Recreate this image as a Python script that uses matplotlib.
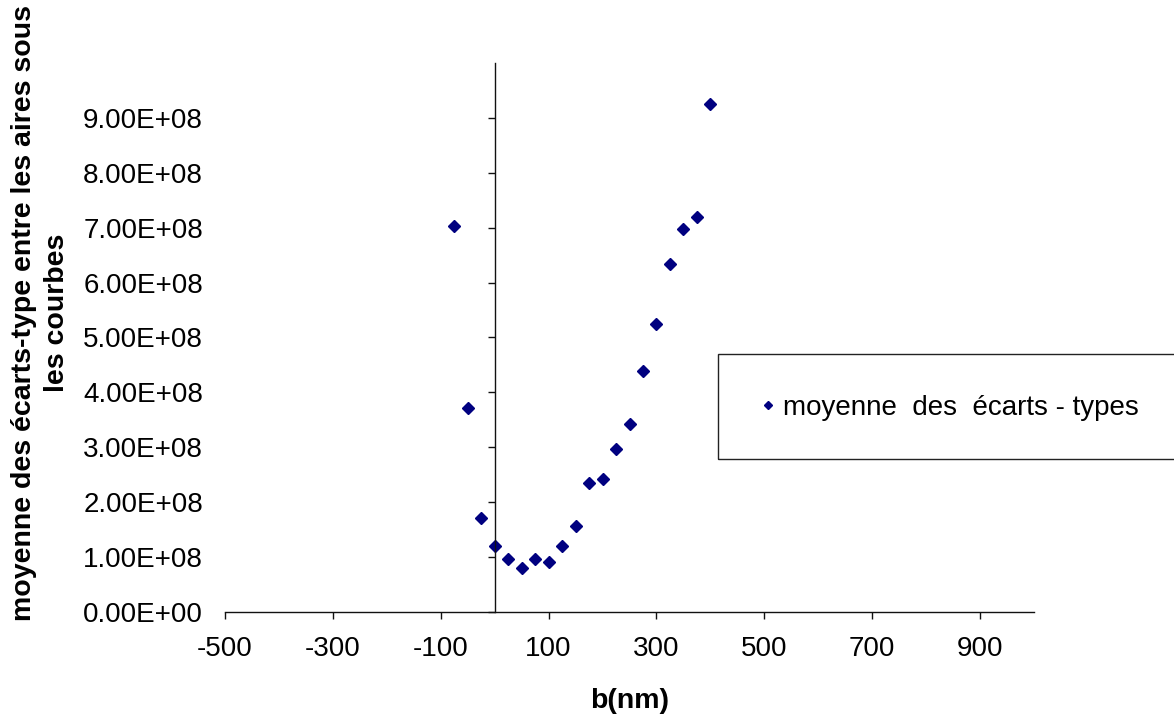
import matplotlib.pyplot as plt
from matplotlib.patches import Rectangle
from matplotlib.ticker import FuncFormatter

plt.rcParams['font.family'] = ['Liberation Sans', 'DejaVu Sans']
plt.rcParams['axes.unicode_minus'] = False

b_nm = [-75, -50, -25, 0, 25, 50, 75, 100, 125, 150, 175, 200,
        225, 250, 275, 300, 325, 350, 375, 400]
ecart = [7.04e8, 3.71e8, 1.72e8, 1.20e8, 0.96e8, 0.80e8, 0.97e8, 0.91e8,
         1.21e8, 1.57e8, 2.35e8, 2.42e8, 2.96e8, 3.43e8, 4.39e8, 5.24e8,
         6.33e8, 6.98e8, 7.20e8, 9.26e8]
x_ticks = [-500, -300, -100, 100, 300, 500, 700, 900]
y_ticks = [0, 1e8, 2e8, 3e8, 4e8, 5e8, 6e8, 7e8, 8e8, 9e8]

W, H = 1174, 718
fig = plt.figure(figsize=(W / 100, H / 100), dpi=100)
ax = fig.add_axes([225 / W, 1 - 612 / H, 809 / W, 549 / H])

ax.plot(b_nm, ecart, 'D', color='#000080', markersize=6, linestyle='none',
        label='moyenne  des  écarts - types')

ax.set_xlim(-500, 1000)
ax.set_ylim(0, 1e9)
ax.set_xticks(x_ticks)
ax.set_yticks(y_ticks)
ax.yaxis.set_major_formatter(FuncFormatter(lambda v, p: '%.2E' % v))

for s in ['top', 'right']:
    ax.spines[s].set_visible(False)
ax.spines['left'].set_position(('data', 0))
for s in ['left', 'bottom']:
    ax.spines[s].set_linewidth(1.0)
    ax.spines[s].set_color('#111111')

# y labels stay at the left edge, ticks on the x=0 axis
x0_px = ax.transData.transform((0, 0))[0] - ax.transAxes.transform((0, 0))[0]
ypad = (x0_px + 22) * 72 / 100 - 5
ax.tick_params(axis='y', direction='out', length=5, width=1, color='#111111',
               labelsize=20, pad=ypad)
ax.tick_params(axis='x', direction='out', length=5, width=1, color='#111111',
               labelsize=20, pad=12)

ax.set_xlabel('b(nm)', fontsize=20.5, fontweight='bold', labelpad=19)
fig.text(41 / W, 1 - 313 / H,
         'moyenne des écarts-type entre les aires sous\nles courbes',
         rotation=90, ha='center', va='center', ma='center',
         fontsize=20.5, fontweight='bold', linespacing=1.35)

# legend box runs off the right edge
fig.patches.append(Rectangle((718 / W, 1 - 459 / H), 600 / W, 105 / H,
                             transform=fig.transFigure, fill=False,
                             edgecolor='#222222', linewidth=1.0))
fig.legend(loc='center left', bbox_to_anchor=(729 / W, 1 - 408 / H),
           frameon=False, fontsize=20, markerscale=0.7,
           handletextpad=0.05, handlelength=1.0)

fig.savefig('out.png', dpi=100)
